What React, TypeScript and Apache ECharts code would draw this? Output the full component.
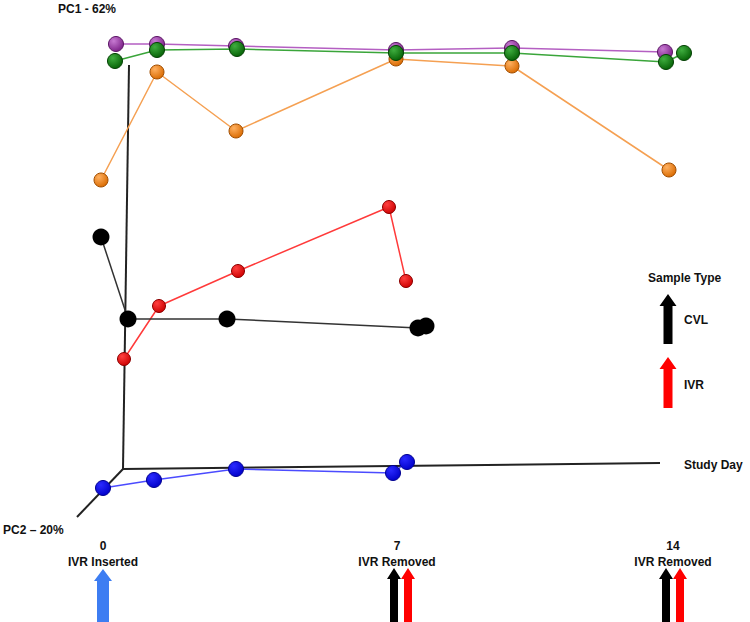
import React, { useEffect, useRef } from "react";
import * as echarts from "echarts";

// Projected 3D-PCA frame (screen-plane coordinates)
const pc1Axis = [[123, 469], [129, 65]];
const dayAxis = [[123, 469], [660, 463]];
const pc2Axis = [[123, 469], [77, 517]];

// Trajectories (projected positions)
const purplePts = [[116, 44], [157, 44], [236, 46], [396, 50], [512, 48], [665, 52]];
const orangePts = [[101, 180], [157, 72], [236, 131], [396, 59], [512, 66], [669, 170]];
const greenPts = [[115, 61], [157, 50], [237, 49], [396, 53], [512, 53], [666, 62], [684, 53]];
const redPts = [[124, 359], [159, 306], [238, 271], [389, 207], [406, 281]];
const blackPts = [[101, 237], [128, 319], [227, 319], [418, 328], [426, 326]];
const bluePts = [[103, 488], [154, 480], [236, 469], [393, 473], [407, 462]];

const dayLabels = ["0", "7", "14"];
const eventLabels = ["IVR Inserted", "IVR Removed", "IVR Removed"];

function sphere(light: string, dark: string) {
  return new echarts.graphic.RadialGradient(0.35, 0.3, 0.75, [
    { offset: 0, color: light },
    { offset: 1, color: dark },
  ]);
}

function arrow(cx: number, top: number, bottom: number, shaftW: number, headW: number, headH: number, color: string) {
  return {
    type: "polygon",
    shape: {
      points: [
        [cx, top],
        [cx + headW / 2, top + headH],
        [cx + shaftW / 2, top + headH],
        [cx + shaftW / 2, bottom],
        [cx - shaftW / 2, bottom],
        [cx - shaftW / 2, top + headH],
        [cx - headW / 2, top + headH],
      ],
    },
    style: { fill: color },
    z: 10,
  };
}

const FONT = "Liberation Sans, Arial, sans-serif";

function txt(x: number, y: number, text: string, align: string = "left") {
  return {
    type: "text",
    x,
    y,
    style: {
      text,
      fill: "#111",
      font: `bold 12px ${FONT}`,
      align,
      verticalAlign: "middle",
    },
    z: 10,
  };
}

export default function App() {
  const ref = useRef<HTMLDivElement>(null);
  useEffect(() => {
    document.body.style.margin = "0";
    if (!ref.current) return;
    const chart = echarts.init(ref.current, undefined, { renderer: "svg" });

    const frame = (data: number[][]) => ({
      type: "line",
      data,
      symbol: "none",
      lineStyle: { color: "#222", width: 2 },
      z: 1,
      silent: true,
    });

    const traj = (data: number[][], line: string, light: string, dark: string, size: number, border: string, z: number) => ({
      type: "line",
      data,
      symbol: "circle",
      symbolSize: size,
      lineStyle: { color: line, width: 1.5 },
      itemStyle: { color: sphere(light, dark), borderColor: border, borderWidth: 1 },
      z,
    });

    const dayX = [103, 397, 673];
    const graphics: any[] = [
      txt(58, 9, "PC1 - 62%"),
      txt(3, 530, "PC2 \u2013 20%"),
      txt(684, 465, "Study Day"),
      txt(648, 278, "Sample Type"),
      txt(684, 320, "CVL"),
      txt(684, 385, "IVR"),
      arrow(668, 294, 344, 9, 17, 12, "#000"),
      arrow(668, 357, 408, 9, 17, 12, "#ff0000"),
      arrow(103, 569, 622, 12, 18, 12, "#3d7df2"),
      arrow(394, 568, 622, 8, 14, 11, "#000"),
      arrow(408, 568, 622, 8, 14, 11, "#ff0000"),
      arrow(666, 568, 622, 8, 14, 11, "#000"),
      arrow(680, 568, 622, 8, 14, 11, "#ff0000"),
    ];
    dayLabels.forEach((d, i) => {
      graphics.push(txt(dayX[i], 546, d, "center"));
      graphics.push(txt(dayX[i], 562, eventLabels[i], "center"));
    });

    chart.setOption({
      animation: false,
      grid: { left: 0, right: 0, top: 0, bottom: 0 },
      xAxis: { type: "value", min: 0, max: 750, show: false },
      yAxis: { type: "value", min: 0, max: 622, inverse: true, show: false },
      series: [
        frame(pc1Axis),
        frame(dayAxis),
        frame(pc2Axis),
        traj(purplePts, "#b45fc2", "#c77ad2", "#7a1f86", 15, "#5a1564", 3),
        traj(orangePts, "#f5a052", "#ffb060", "#d96a00", 14, "#a04d00", 4),
        traj(greenPts, "#3aa53a", "#3fae3f", "#056005", 15, "#034003", 5),
        traj(redPts, "#ff3a3a", "#ff4040", "#cc0000", 13, "#8a0000", 6),
        {
          type: "line",
          data: blackPts,
          symbol: "circle",
          symbolSize: 17,
          lineStyle: { color: "#333", width: 1.5 },
          itemStyle: { color: "#000", borderColor: "#000", borderWidth: 0 },
          z: 7,
        },
        traj(bluePts, "#4b4bff", "#2a2aff", "#0000c8", 15, "#000090", 8),
      ],
      graphic: graphics,
    });
    return () => chart.dispose();
  }, []);
  return <div ref={ref} style={{ width: 750, height: 622 }} />;
}
